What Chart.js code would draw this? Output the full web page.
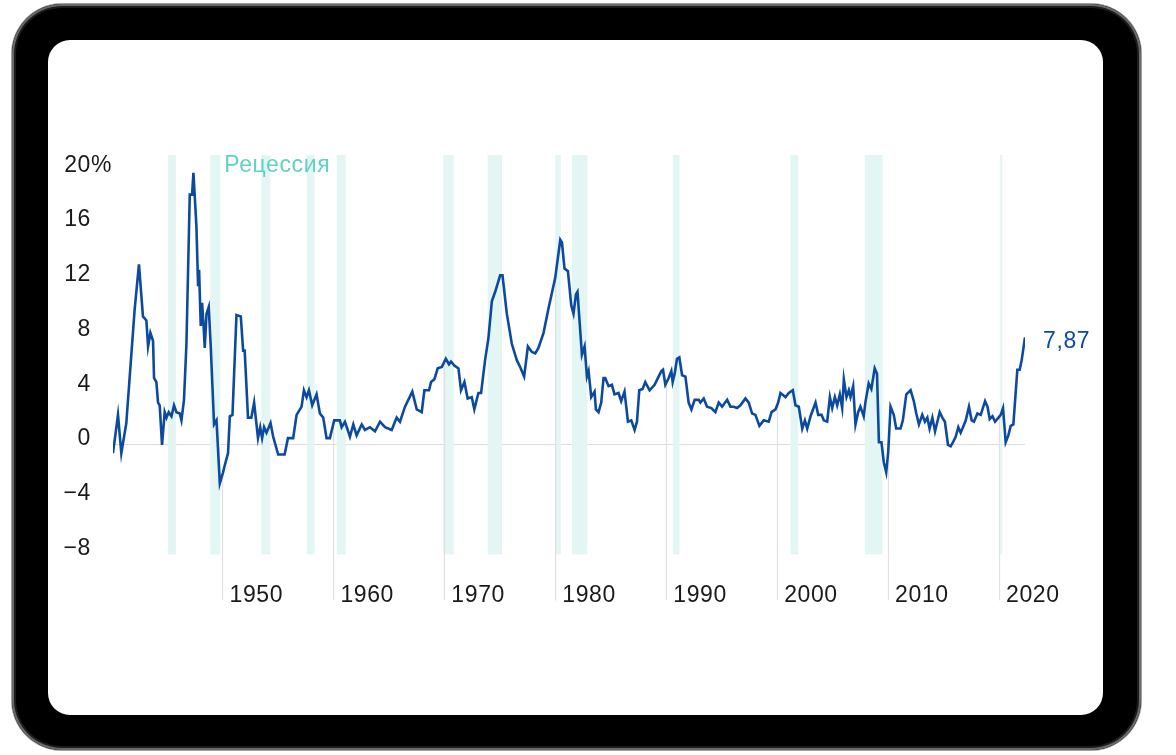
<!DOCTYPE html>
<html>
<head>
<meta charset="utf-8">
<script src="https://cdn.jsdelivr.net/npm/chart.js@4.4.0/dist/chart.umd.min.js"></script>
<style>
  html, body { margin: 0; padding: 0; background: #fff; }
  body { width: 1176px; height: 755px; position: relative; overflow: hidden; }
  .device {
    position: absolute; left: 12px; top: 4px; width: 1129px; height: 746px;
    background: #000; border-radius: 50px;
    box-shadow: inset 0 0 0 2px #6a6a6a, inset 0 0 0 4px #1c1c1c, 0 0 0 1px #a0a0a0;
  }
  .screen {
    position: absolute; left: 48px; top: 40px; width: 1055px; height: 675px;
    background: #fff; border-radius: 22px;
  }
  canvas { position: absolute; left: 0; top: 0; }
</style>
</head>
<body>
<div class="device"></div>
<div class="screen"></div>
<canvas id="cpiChart" width="1176" height="755"></canvas>
<script>
// inflation, % y/y
const years = [
  1940.13, 1940.58, 1940.88, 1941.33, 1942.08, 1942.47, 1942.83, 1943.14, 1943.29, 1943.50,
  1943.74, 1943.83, 1944.04, 1944.19, 1944.34, 1944.55, 1944.79, 1944.95, 1945.15, 1945.40,
  1945.63, 1945.85, 1946.15, 1946.30, 1946.53, 1946.75, 1947.05, 1947.26, 1947.38, 1947.65,
  1947.80, 1947.89, 1948.04, 1948.16, 1948.29, 1948.40, 1948.56, 1948.76, 1948.94, 1949.24,
  1949.46, 1949.76, 1950.05, 1950.20, 1950.50, 1950.66, 1950.90, 1951.26, 1951.65, 1951.86,
  1952.00, 1952.30, 1952.60, 1952.85, 1953.20, 1953.40, 1953.57, 1953.75, 1953.97, 1954.33,
  1954.57, 1955.02, 1955.60, 1955.90, 1956.37, 1956.68, 1957.13, 1957.34, 1957.58, 1957.79,
  1958.09, 1958.48, 1958.78, 1959.08, 1959.38, 1959.68, 1960.07, 1960.58, 1960.74, 1961.04,
  1961.49, 1961.79, 1962.09, 1962.55, 1962.84, 1963.29, 1963.75, 1964.20, 1964.65, 1965.25,
  1965.70, 1966.00, 1966.45, 1966.75, 1967.11, 1967.51, 1967.96, 1968.20, 1968.62, 1968.80,
  1969.10, 1969.40, 1969.77, 1970.13, 1970.42, 1970.60, 1970.90, 1971.27, 1971.50, 1971.81,
  1972.10, 1972.47, 1972.70, 1973.07, 1973.31, 1973.67, 1973.97, 1974.28, 1974.58, 1974.73,
  1975.03, 1975.24, 1975.63, 1976.08, 1976.53, 1976.83, 1977.19, 1977.53, 1977.89, 1978.19,
  1978.48, 1978.94, 1979.39, 1979.99, 1980.45, 1980.60, 1980.83, 1981.14, 1981.44, 1981.64,
  1981.86, 1982.00, 1982.40, 1982.64, 1982.85, 1983.00, 1983.24, 1983.54, 1983.66, 1983.90,
  1984.14, 1984.35, 1984.50, 1984.80, 1985.10, 1985.34, 1985.70, 1985.94, 1986.24, 1986.55,
  1986.85, 1987.15, 1987.36, 1987.57, 1987.87, 1988.11, 1988.50, 1988.95, 1989.31, 1989.56,
  1989.71, 1989.92, 1990.22, 1990.46, 1990.58, 1990.76, 1990.97, 1991.18, 1991.43, 1991.73,
  1992.02, 1992.27, 1992.56, 1992.93, 1993.08, 1993.38, 1993.68, 1994.07, 1994.43, 1994.73,
  1995.04, 1995.49, 1995.79, 1996.08, 1996.39, 1996.69, 1997.14, 1997.44, 1997.74, 1998.04,
  1998.40, 1998.79, 1999.24, 1999.49, 1999.85, 2000.09, 2000.30, 2000.75, 2001.05, 2001.41,
  2001.65, 2001.95, 2002.26, 2002.50, 2002.71, 2003.01, 2003.46, 2003.70, 2004.00, 2004.20,
  2004.51, 2004.75, 2004.96, 2005.20, 2005.41, 2005.65, 2005.86, 2006.01, 2006.25, 2006.46,
  2006.61, 2006.85, 2007.06, 2007.30, 2007.50, 2007.80, 2007.95, 2008.25, 2008.49, 2008.79,
  2009.00, 2009.17, 2009.40, 2009.62, 2009.83, 2010.01, 2010.22, 2010.51, 2010.73, 2011.12,
  2011.33, 2011.64, 2012.03, 2012.32, 2012.54, 2012.78, 2013.08, 2013.32, 2013.54, 2013.74,
  2013.99, 2014.23, 2014.44, 2014.65, 2014.89, 2015.12, 2015.40, 2015.64, 2015.85, 2016.09,
  2016.33, 2016.54, 2016.75, 2017.00, 2017.29, 2017.53, 2017.74, 2018.05, 2018.35, 2018.74,
  2018.96, 2019.16, 2019.41, 2019.64, 2019.95, 2020.15, 2020.36, 2020.60, 2020.84, 2021.05,
  2021.29, 2021.65, 2021.86, 2022.04, 2022.34
];
const inflation = [
  -0.6, 2.2, -0.6, 1.6, 9.9, 13.2, 9.4, 9.1, 7.2, 8.2,
  7.6, 4.9, 4.6, 3.1, 2.9, 0.0, 2.4, 2.0, 2.4, 2.1,
  2.9, 2.4, 2.3, 1.8, 3.3, 7.4, 18.3, 18.3, 19.9, 16.0,
  11.6, 12.8, 8.7, 10.4, 8.8, 7.1, 9.6, 10.1, 7.2, 1.5,
  1.8, -2.8, -2.0, -1.5, -0.6, 2.1, 2.2, 9.5, 9.4, 6.9,
  6.9, 2.0, 2.0, 3.1, 0.5, 1.3, 0.5, 1.3, 0.9, 1.6,
  0.6, -0.7, -0.7, 0.5, 0.5, 2.2, 2.8, 4.0, 3.5, 4.0,
  2.9, 3.7, 2.3, 2.0, 0.5, 0.5, 1.8, 1.8, 1.3, 1.7,
  0.6, 1.5, 0.7, 1.5, 1.1, 1.3, 1.0, 1.7, 1.3, 1.1,
  2.0, 1.7, 2.8, 3.3, 3.9, 2.6, 2.4, 4.0, 4.0, 4.6,
  4.8, 5.6, 5.7, 6.3, 5.9, 6.1, 5.8, 5.6, 4.0, 4.6,
  3.4, 3.5, 2.6, 3.8, 3.8, 6.2, 7.8, 10.5, 11.2, 11.6,
  12.4, 12.4, 9.6, 7.4, 6.2, 5.7, 5.0, 7.2, 6.8, 6.7,
  7.1, 8.2, 10.0, 12.2, 15.0, 14.8, 12.9, 12.7, 10.2, 9.6,
  11.0, 11.2, 6.6, 7.2, 5.0, 5.4, 3.5, 3.9, 2.6, 2.4,
  3.1, 4.9, 4.9, 4.3, 4.4, 3.7, 3.8, 3.2, 3.9, 1.7,
  1.8, 1.1, 1.7, 4.0, 4.1, 4.6, 4.0, 4.4, 5.0, 5.4,
  5.5, 4.4, 4.9, 5.4, 4.6, 5.2, 6.3, 6.4, 5.1, 5.0,
  3.1, 2.6, 3.3, 3.3, 3.1, 3.4, 2.8, 2.7, 2.4, 3.1,
  2.8, 3.3, 2.8, 2.8, 2.7, 2.9, 3.4, 3.1, 2.3, 2.2,
  1.4, 1.8, 1.7, 2.4, 2.6, 3.1, 3.8, 3.5, 3.8, 4.0,
  2.9, 2.8, 1.2, 1.8, 1.2, 2.1, 3.1, 2.2, 2.2, 1.8,
  1.7, 3.5, 2.7, 3.5, 2.9, 3.7, 2.7, 4.8, 3.5, 4.0,
  3.5, 4.3, 1.5, 2.4, 2.8, 2.1, 3.1, 4.5, 4.1, 5.6,
  5.2, 0.2, 0.2, -1.3, -2.0, -0.5, 2.8, 2.2, 1.2, 1.2,
  1.8, 3.7, 4.0, 3.2, 2.3, 1.5, 2.2, 1.7, 2.0, 1.2,
  2.0, 1.0, 1.7, 2.4, 2.0, 1.7, 0.0, -0.1, 0.2, 0.6,
  1.3, 0.9, 1.3, 1.8, 2.8, 1.8, 1.7, 2.3, 2.2, 3.2,
  2.8, 1.9, 2.1, 1.7, 2.0, 2.2, 2.7, 0.2, 0.7, 1.4,
  1.5, 5.5, 5.5, 6.2, 7.87
];
const lastLabel = '7,87';

// recessions (start / end, fractional years)
const recessionStart = [1945.1, 1948.9, 1953.5, 1957.6, 1960.3, 1969.9, 1973.9, 1980.0, 1981.5, 1990.6, 2001.2, 2007.9, 2020.1];
const recessionEnd   = [1945.8, 1949.8, 1954.3, 1958.3, 1961.1, 1970.85, 1975.2, 1980.5, 1982.9, 1991.2, 2001.9, 2009.5, 2020.3];
const recessionLabel = 'Рецессия';

const xTicks = [1950, 1960, 1970, 1980, 1990, 2000, 2010, 2020];
const yTicks = [-8, -4, 0, 4, 8, 12, 16, 20];

const lineBlue = '#0b4a9f';
const bandColor = '#e3f6f4';
const textColor = '#1a1a1a';
const fontFamily = '"Liberation Sans", Arial, sans-serif';
const fontSize = 23;
const font = fontSize + 'px ' + fontFamily;
const yLabelShift = -6;

function valueAt(t) {
  for (let i = 1; i < years.length; i++) {
    if (years[i] >= t) {
      const k = (t - years[i - 1]) / (years[i] - years[i - 1]);
      return inflation[i - 1] + k * (inflation[i] - inflation[i - 1]);
    }
  }
  return inflation[inflation.length - 1];
}

const decor = {
  id: 'decor',
  beforeDraw(chart) {
    // the original type is a bit wider than Arial
    chart.ctx.letterSpacing = '0.6px';
  },
  beforeDatasetsDraw(chart) {
    const { ctx, chartArea, scales: { x, y } } = chart;
    ctx.save();
    ctx.fillStyle = bandColor;
    recessionStart.forEach((s, i) => {
      const x0 = x.getPixelForValue(s);
      const x1 = x.getPixelForValue(recessionEnd[i]);
      ctx.fillRect(x0, chartArea.top, Math.max(x1 - x0, 1.5), chartArea.bottom - chartArea.top);
    });
    // drop lines from the curve at each decade
    ctx.strokeStyle = '#e0e0e0';
    ctx.lineWidth = 1.2;
    xTicks.forEach(t => {
      const px = Math.round(x.getPixelForValue(t)) + 0.5;
      ctx.beginPath();
      ctx.moveTo(px, y.getPixelForValue(valueAt(t)));
      ctx.lineTo(px, chartArea.bottom + 46);
      ctx.stroke();
    });
    ctx.restore();
  },
  afterDraw(chart) {
    const { ctx, scales: { x, y } } = chart;
    const topY = y.getPixelForValue(yTicks[yTicks.length - 1]) + yLabelShift;
    ctx.save();
    ctx.font = font;
    ctx.textBaseline = 'middle';
    ctx.textAlign = 'left';
    ctx.fillStyle = textColor;
    ctx.fillText('%', y.right - y.options.ticks.padding, topY);
    ctx.fillStyle = '#5fd2c4';
    ctx.fillText(recessionLabel, x.getPixelForValue(recessionEnd[1]) + 4, topY);
    ctx.fillStyle = lineBlue;
    const n = years.length - 1;
    ctx.fillText(lastLabel, x.getPixelForValue(years[n]) + 18, y.getPixelForValue(inflation[n]) + 4);
    ctx.restore();
  }
};

const ctx = document.getElementById('cpiChart').getContext('2d');
new Chart(ctx, {
  type: 'line',
  data: {
    datasets: [{
      data: years.map((yr, i) => ({ x: yr, y: inflation[i] })),
      borderColor: lineBlue,
      borderWidth: 2.6,
      pointRadius: 0,
      tension: 0,
      fill: false,
    }],
  },
  options: {
    responsive: false,
    animation: false,
    devicePixelRatio: 1,
    layout: { padding: { left: 0, right: 151, top: 155, bottom: 140.6 } },
    plugins: { legend: { display: false }, tooltip: { enabled: false } },
    scales: {
      x: {
        type: 'linear',
        min: years[0],
        max: years[years.length - 1],
        afterBuildTicks: s => { s.ticks = xTicks.map(v => ({ value: v })); },
        afterFit: s => { s.height = 60; },
        grid: { display: false, drawTicks: false },
        border: { display: false },
        ticks: {
          align: 'start',
          labelOffset: 7,
          padding: 27,
          maxRotation: 0,
          autoSkip: false,
          color: textColor,
          font: { family: fontFamily, size: fontSize },
          callback: v => String(v),
        },
      },
      y: {
        min: -8,
        max: 21.2,
        afterBuildTicks: s => { s.ticks = yTicks.map(v => ({ value: v })); },
        afterFit: s => { s.width = 113; },
        grid: {
          drawTicks: false,
          color: c => (c.tick && c.tick.value === 0 ? '#dcdcdc' : 'rgba(0,0,0,0)'),
          lineWidth: 1,
        },
        border: { display: false },
        ticks: {
          padding: 22,
          labelOffset: yLabelShift,
          autoSkip: false,
          color: textColor,
          font: { family: fontFamily, size: fontSize },
          callback: v => (v < 0 ? '\u2212' + Math.abs(v) : String(v)),
        },
      },
    },
  },
  plugins: [decor],
});
</script>
</body>
</html>
